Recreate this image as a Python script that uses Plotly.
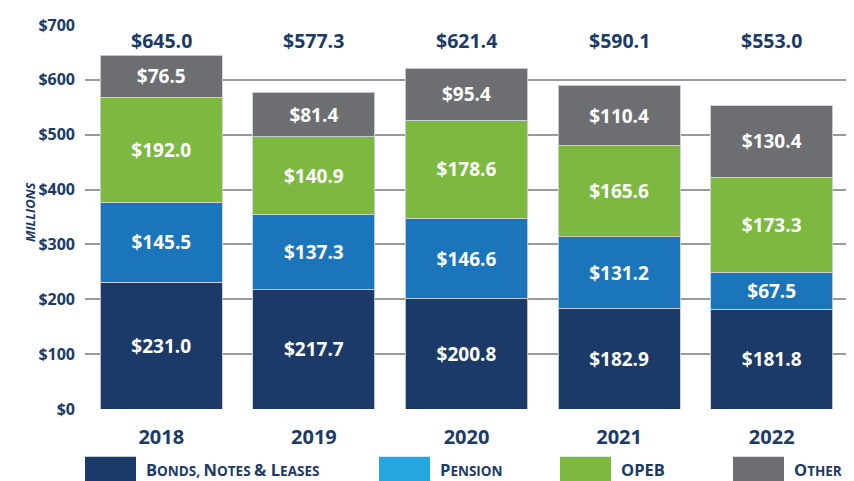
import plotly.graph_objects as go

years = ["2018", "2019", "2020", "2021", "2022"]
series_names = ["Bonds, Notes & Leases", "Pension", "OPEB", "Other"]
bonds = [231.0, 217.7, 200.8, 182.9, 181.8]
pension = [145.5, 137.3, 146.6, 131.2, 67.5]
opeb = [192.0, 140.9, 178.6, 165.6, 173.3]
other = [76.5, 81.4, 95.4, 110.4, 130.4]
totals = [645.0, 577.3, 621.4, 590.1, 553.0]
y_ticks = [0, 100, 200, 300, 400, 500, 600, 700]

series_values = [bonds, pension, opeb, other]
bar_colors = ["#1b3a68", "#1a75bb", "#7db941", "#6d6e71"]
legend_colors = ["#1b3a68", "#27a7e0", "#7db941", "#6d6e71"]
SC = "<span style='font-size:13.5px'>"
legend_labels = [
    f"B{SC}ONDS, </span>N{SC}OTES </span>& L{SC}EASES</span>",
    f"P{SC}ENSION</span>",
    "OPEB",
    f"O{SC}THER</span>",
]

NAVY = "#1b3a68"
FONT = "Open Sans"
OFF = 8  # page body margin offset
W, H = 854 - OFF, 481 - OFF
ML, MT = 85 - OFF, 23 - OFF
MR = W - (848 - OFF)
MB = H - (409 - OFF)
PW, PH = W - ML - MR, H - MT - MB

def px_x(px):
    return (px - OFF - ML) / PW

def px_y(py):
    return (H - MB - (py - OFF)) / PH

xpos = list(range(len(years)))

fig = go.Figure()
for name, vals, col in zip(series_names, series_values, bar_colors):
    fig.add_trace(go.Bar(
        x=xpos, y=vals, name=name, width=0.8,
        marker=dict(color=col, line=dict(color="rgba(205,210,215,0.9)", width=1)),
        text=[f"${v:.1f}" for v in vals],
        textposition="inside", insidetextanchor="middle",
        textfont=dict(family=FONT, size=19, color="white", weight="bold"),
        showlegend=False,
    ))

annotations = []
for xp, t in zip(xpos, totals):
    annotations.append(dict(
        x=xp, y=672, xref="x", yref="y", text=f"${t:.1f}", showarrow=False,
        font=dict(family=FONT, size=19.5, color=NAVY, weight="bold"),
    ))

annotations.append(dict(
    x=px_x(19), y=px_y(211), xref="paper", yref="paper", text="<i>MILLIONS</i>",
    textangle=-90, showarrow=False,
    font=dict(family=FONT, size=13, color=NAVY, weight="bold"),
))

shapes = []
swatch_x = [85, 379, 560, 733]
for sx, lab, col in zip(swatch_x, legend_labels, legend_colors):
    shapes.append(dict(
        type="rect", xref="paper", yref="paper",
        x0=px_x(sx), x1=px_x(sx + 51), y0=px_y(457), y1=px_y(485),
        fillcolor=col, line=dict(width=0),
    ))
    annotations.append(dict(
        x=px_x(sx + 59), y=px_y(470), xref="paper", yref="paper",
        text=lab, showarrow=False, xanchor="left", yanchor="middle",
        font=dict(family=FONT, size=16.5, color=NAVY, weight="bold"),
    ))

fig.update_layout(
    barmode="stack",
    width=W, height=H,
    margin=dict(l=ML, r=MR, t=MT, b=MB),
    plot_bgcolor="white", paper_bgcolor="white",
    xaxis=dict(
        range=[-0.5, len(years) - 0.5],
        tickvals=xpos, ticktext=years,
        showgrid=False, showline=False, ticks="", zeroline=False,
        ticklabelstandoff=14,
        tickfont=dict(family=FONT, size=20, color=NAVY, weight="bold"),
    ),
    yaxis=dict(
        range=[0, 700], tickvals=y_ticks,
        ticktext=[f"${v}" for v in y_ticks],
        showgrid=True, gridcolor="#9a9a9a", gridwidth=1.5,
        zeroline=False, showline=False, ticks="",
        ticklabelstandoff=9,
        tickfont=dict(family=FONT, size=16, color=NAVY, weight="bold"),
    ),
    annotations=annotations, shapes=shapes,
)

fig.write_html("out.html")
